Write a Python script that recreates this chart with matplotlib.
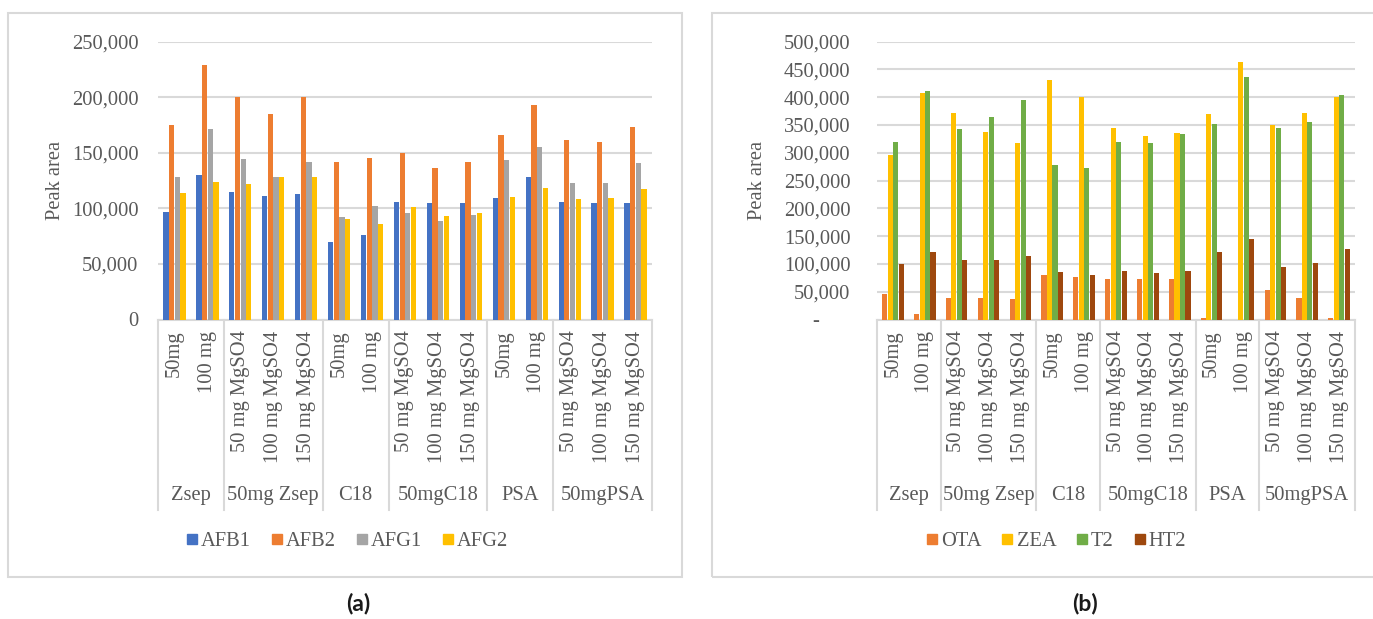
import numpy as np
import matplotlib.pyplot as plt
import matplotlib.transforms as mtransforms
from matplotlib.lines import Line2D
from matplotlib.patches import Rectangle

plt.rcParams['font.family'] = ['Liberation Serif', 'DejaVu Serif']

# sorbent groups and the doses tested within each
groups = ["Zsep", "50mg Zsep", "C18", "50mgC18", "PSA", "50mgPSA"]
sub_labels = [
    ["50mg", "100 mg"],
    ["50 mg MgSO4", "100 mg MgSO4", "150 mg MgSO4"],
    ["50mg", "100 mg"],
    ["50 mg MgSO4", "100 mg MgSO4", "150 mg MgSO4"],
    ["50mg", "100 mg"],
    ["50 mg MgSO4", "100 mg MgSO4", "150 mg MgSO4"],
]

# (a) aflatoxins
afb1 = [97000, 130000, 115000, 111000, 113000, 70000, 76000, 106000, 105000, 105000,
        109000, 128000, 106000, 105000, 105000]
afb2 = [175000, 229000, 200000, 185000, 200000, 142000, 145000, 150000, 136000, 142000,
        166000, 193000, 161000, 160000, 173000]
afg1 = [128000, 171000, 144000, 128000, 142000, 92000, 102000, 96000, 89000, 94000,
        143000, 155000, 123000, 123000, 141000]
afg2 = [114000, 124000, 122000, 128000, 128000, 90000, 86000, 101000, 93000, 96000,
        110000, 118000, 108000, 109000, 117000]

# (b) other mycotoxins
ota = [45000, 10000, 39000, 39000, 36000, 80000, 77000, 72000, 72000, 72000,
       3000, 0, 53000, 39000, 2000]
zea = [295000, 408000, 372000, 337000, 318000, 430000, 400000, 345000, 330000, 336000,
       370000, 464000, 350000, 372000, 400000]
t2 = [320000, 411000, 343000, 365000, 395000, 278000, 272000, 320000, 318000, 333000,
      352000, 437000, 344000, 356000, 404000]
ht2 = [100000, 121000, 107000, 107000, 114000, 85000, 80000, 88000, 83000, 87000,
       121000, 145000, 95000, 101000, 126000]

text_col = '#595959'
line_col = '#D9D9D9'
fs = 14.8

fig = plt.figure(figsize=(13.73, 6.19), dpi=100)

# panel frames
for x0, x1 in [(8, 682), (712, 1380)]:
    fig.patches.append(Rectangle((x0 / 1373, 1 - 577 / 619), (x1 - x0) / 1373, (577 - 13) / 619,
                                 transform=fig.transFigure, fill=False,
                                 edgecolor=line_col, lw=1.5))


def draw_panel(rect, series, names, colors, ymax, zero_label, legend_x, caption, cap_x,
               tick_pad, ylab_pad):
    ax = fig.add_axes(rect)
    labels = [s for g in sub_labels for s in g]
    x = np.arange(len(labels))
    step, w = 0.172, 0.16
    for i, (vals, col) in enumerate(zip(series, colors)):
        ax.bar(x + (i - 1.5) * step, vals, width=w, color=col, zorder=3)
    ax.set_xlim(-0.5, len(labels) - 0.5)
    ax.set_ylim(0, ymax)
    ticks = np.arange(0, ymax + 1, 50000)
    ax.set_yticks(ticks)
    ax.set_yticklabels([zero_label] + [f"{t:,}" for t in ticks[1:]], fontsize=fs, color=text_col)
    ax.tick_params(axis='y', length=0, pad=tick_pad)
    ax.yaxis.grid(True, color=line_col, lw=1.5, zorder=0)
    ax.set_axisbelow(True)
    for s in ['top', 'right', 'left']:
        ax.spines[s].set_visible(False)
    ax.spines['bottom'].set_color(line_col)
    ax.spines['bottom'].set_linewidth(1.5)
    ax.set_xticks(x)
    ax.set_xticklabels(labels, rotation=90, va='top', ha='center', fontsize=fs, color=text_col)
    ax.tick_params(axis='x', length=0, pad=8)
    ax.set_ylabel("Peak area", fontsize=fs, color=text_col, labelpad=ylab_pad)

    # group labels and separators under the category axis
    trans = mtransforms.blended_transform_factory(ax.transData, ax.transAxes)
    start = 0
    edges = [-0.5]
    for g, subs in zip(groups, sub_labels):
        end = start + len(subs)
        ax.text((start + end - 1) / 2, -0.632, g, transform=trans, ha='center', va='center',
                fontsize=fs, color=text_col)
        edges.append(end - 0.5)
        start = end
    for e in edges:
        ax.add_line(Line2D([e, e], [0, -0.685], transform=trans, color=line_col,
                           lw=1.5, clip_on=False))

    handles = [Line2D([], [], marker='s', ls='', color=c, markersize=6.5) for c in colors]
    fig.legend(handles, names, loc='center', bbox_to_anchor=(legend_x, 1 - 541 / 619),
               ncol=4, frameon=False, fontsize=fs, handlelength=0.6, handletextpad=0.15,
               columnspacing=0.95, labelcolor=text_col)
    fig.text(cap_x, 1 - 604 / 619, caption, ha='center', va='center', fontsize=16.5,
             fontweight='bold', family='Lato', color='#1a1a1a')
    return ax


bottom = 1 - 319.5 / 619
height = (319.5 - 41.5) / 619

draw_panel([158 / 1373, bottom, 494 / 1373, height],
           [afb1, afb2, afg1, afg2], ["AFB1", "AFB2", "AFG1", "AFG2"],
           ['#4472C4', '#ED7D31', '#A5A5A5', '#FFC000'],
           250000, "0", 347 / 1373, "(a)", 358 / 1373, 14, 5)

draw_panel([877 / 1373, bottom, 478 / 1373, height],
           [ota, zea, t2, ht2], ["OTA", "ZEA", "T2", "HT2"],
           ['#ED7D31', '#FFC000', '#70AD47', '#9E480E'],
           500000, "-      ", 1056 / 1373, "(b)", 1085 / 1373, 19, 12)

fig.savefig("out.png", dpi=100)
